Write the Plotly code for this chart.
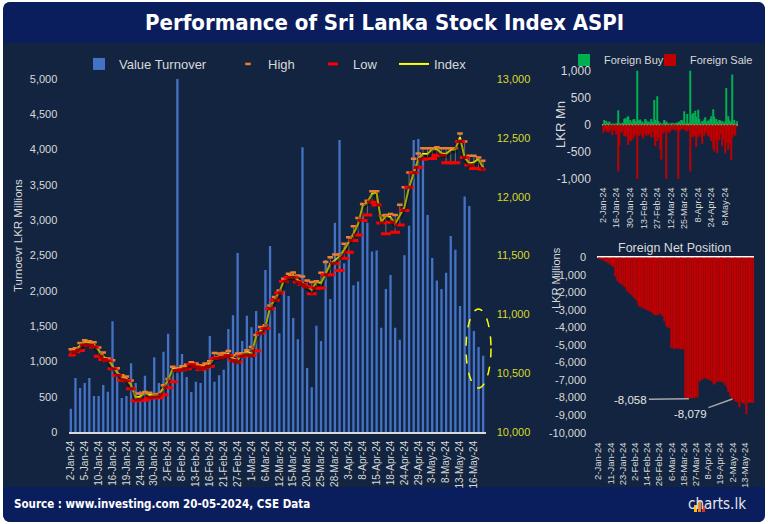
import plotly.graph_objects as go

W, H = 768, 524

# ---------------- data ----------------
dates = [
    "2-Jan-24", "3-Jan-24", "4-Jan-24", "5-Jan-24", "8-Jan-24", "9-Jan-24", "10-Jan-24", "11-Jan-24",
    "12-Jan-24", "16-Jan-24", "17-Jan-24", "18-Jan-24", "19-Jan-24", "22-Jan-24", "23-Jan-24",
    "24-Jan-24", "26-Jan-24", "29-Jan-24", "30-Jan-24", "31-Jan-24",
    "1-Feb-24", "2-Feb-24", "6-Feb-24", "7-Feb-24", "8-Feb-24", "9-Feb-24", "12-Feb-24", "13-Feb-24",
    "14-Feb-24", "15-Feb-24", "16-Feb-24", "19-Feb-24", "20-Feb-24", "21-Feb-24", "22-Feb-24",
    "26-Feb-24", "27-Feb-24", "28-Feb-24", "29-Feb-24",
    "1-Mar-24", "4-Mar-24", "5-Mar-24", "6-Mar-24", "7-Mar-24", "11-Mar-24", "12-Mar-24", "13-Mar-24",
    "14-Mar-24", "15-Mar-24", "18-Mar-24", "19-Mar-24", "20-Mar-24", "21-Mar-24", "22-Mar-24",
    "25-Mar-24", "26-Mar-24", "27-Mar-24", "28-Mar-24",
    "1-Apr-24", "2-Apr-24", "3-Apr-24", "4-Apr-24", "5-Apr-24", "8-Apr-24", "9-Apr-24", "10-Apr-24",
    "15-Apr-24", "16-Apr-24", "17-Apr-24", "18-Apr-24", "19-Apr-24", "22-Apr-24", "24-Apr-24",
    "25-Apr-24", "26-Apr-24", "29-Apr-24", "30-Apr-24",
    "2-May-24", "3-May-24", "6-May-24", "7-May-24", "8-May-24", "9-May-24", "10-May-24", "13-May-24",
    "14-May-24", "15-May-24", "16-May-24", "17-May-24", "20-May-24",
]

turnover = [
    330, 765, 625, 695, 765, 510, 510, 665, 570, 1570,
    900, 480, 510, 975, 695, 580, 795, 540, 1060, 695,
    1135, 1390, 880, 5000, 1105, 780, 565, 710, 695, 880,
    1360, 710, 805, 880, 1460, 1655, 2535, 1290, 1645, 1485,
    1715, 1500, 2295, 2635, 1770, 1400, 2000, 1925, 1615, 1315,
    4035, 905, 635, 1505, 1290, 2435, 1885, 2965, 4135, 2390,
    2550, 2080, 2130, 3070, 2965, 2555, 2570, 1475, 2025, 2225,
    1475, 1305, 2505, 2920, 4135, 4150, 3900, 3075, 2465, 2145,
    2025, 2255, 2775, 2580, 1785, 3335, 3200, 1430, 1205, 1080,
]

index_close = [
    10690, 10700, 10730, 10765, 10757, 10743, 10695, 10638, 10616, 10559,
    10503, 10469, 10452, 10398, 10294, 10299, 10333, 10314, 10314, 10322,
    10370, 10441, 10540, 10531, 10548, 10559, 10582, 10568, 10554, 10568,
    10582, 10633, 10644, 10653, 10661, 10624, 10610, 10667, 10681, 10667,
    10814, 10860, 10893, 11062, 11124, 11189, 11288, 11322, 11331, 11288,
    11266, 11240, 11209, 11274, 11266, 11345, 11429, 11458, 11492, 11548,
    11613, 11684, 11768, 11924, 11952, 12023, 12037, 11782, 11839, 11825,
    11768, 11839, 11910, 12079, 12206, 12319, 12362, 12362, 12404, 12404,
    12367, 12362, 12396, 12404, 12503, 12333, 12282, 12291, 12319, 12243,
]

index_high = [
    10703, 10712, 10757, 10780, 10771, 10763, 10718, 10675, 10624, 10610,
    10542, 10483, 10472, 10438, 10328, 10328, 10339, 10333, 10319, 10322,
    10398, 10450, 10554, 10542, 10559, 10571, 10593, 10582, 10568, 10582,
    10602, 10672, 10667, 10672, 10689, 10653, 10667, 10669, 10695, 10723,
    10825, 10893, 10907, 11076, 11147, 11203, 11302, 11345, 11356, 11331,
    11322, 11288, 11274, 11282, 11353, 11444, 11486, 11508, 11508, 11599,
    11655, 11749, 11819, 11938, 11966, 12045, 12045, 11839, 11845, 11853,
    11845, 11932, 12079, 12206, 12322, 12367, 12412, 12412, 12412, 12420,
    12412, 12412, 12412, 12412, 12537, 12469, 12347, 12347, 12333, 12305,
]

index_low = [
    10655, 10681, 10692, 10740, 10740, 10723, 10644, 10616, 10605, 10537,
    10483, 10441, 10435, 10367, 10266, 10271, 10271, 10291, 10291, 10291,
    10316, 10376, 10427, 10523, 10528, 10537, 10574, 10554, 10531, 10545,
    10559, 10624, 10630, 10638, 10650, 10610, 10596, 10644, 10647, 10653,
    10689, 10842, 10879, 11048, 11119, 11181, 11282, 11316, 11316, 11274,
    11254, 11232, 11175, 11223, 11223, 11336, 11336, 11435, 11373, 11477,
    11528, 11627, 11675, 11797, 11845, 11952, 11929, 11777, 11684, 11782,
    11698, 11760, 11882, 12079, 12203, 12248, 12319, 12325, 12325, 12353,
    12353, 12288, 12288, 12288, 12469, 12333, 12270, 12240, 12240, 12234,
]

foreign_buy = [
    20, 90, 70, 40, 60, 30, 20, 25, 15, 30,
    270, 35, 20, 40, 110, 120, 140, 160, 90, 50,
    100, 110, 70, 1050, 90, 100, 60, 40, 110, 80,
    60, 50, 110, 60, 460, 90, 530, 70, 40, 20,
    30, 90, 60, 40, 20, 30, 40, 25, 30, 40,
    50, 60, 90, 80, 250, 40, 200, 40, 1800, 190,
    220, 260, 150, 280, 110, 40, 70, 100, 140, 60,
    80, 110, 160, 290, 150, 110, 60, 90, 80, 70,
    40, 60, 680, 160, 80, 60, 930, 90, 30, 70,
]

foreign_sale = [
    -150, -120, -100, -130, -140, -90, -190, -100, -120, -180,
    -860, -380, -150, -120, -200, -210, -220, -370, -290, -300,
    -250, -220, -180, -1300, -200, -160, -210, -250, -160, -200,
    -190, -170, -230, -130, -240, -390, -300, -240, -460, -640,
    -160, -130, -1150, -120, -150, -120, -90, -80, -110, -90,
    -2900, -120, -90, -80, -70, -110, -120, -90, -860, -230,
    -220, -200, -410, -230, -180, -220, -350, -200, -140, -170,
    -210, -230, -300, -430, -490, -300, -520, -280, -180, -390,
    -260, -530, -330, -460, -340, -650, -240, -180, -200, -40,
]

foreign_net = [
    -40, -80, -130, -180, -230, -280, -350, -430, -500, -560,
    -1100, -1350, -1450, -1500, -1600, -1700, -1800, -1950, -2050, -2150,
    -2250, -2350, -2450, -2700, -2800, -2850, -2900, -2950, -3000, -3050,
    -3100, -3150, -3250, -3300, -3300, -3250, -3200, -3350, -3650, -3900,
    -4000, -4050, -5150, -5200, -5200, -5200, -5220, -5230, -5240, -5250,
    -8040, -8050, -8058, -8040, -8030, -8020, -8000, -7980, -7100, -7000,
    -6950, -6900, -6900, -6950, -7000, -7050, -7200, -7250, -7100, -7080,
    -7100, -7080, -7150, -7300, -7450, -7700, -7950, -8079, -8100, -8200,
    -8250, -8550, -8200, -8300, -8350, -8950, -8250, -8300, -8280, -8300,
]

fx_tick_vals = [1000, 500, 0, -500, -1000]
fx_tick_text = ["1,000", "500", "0", "-500", "-1,000"]
net_tick_vals = [0, -1000, -2000, -3000, -4000, -5000, -6000, -7000, -8000, -9000, -10000]
net_tick_text = ["0", "-1,000", "-2,000", "-3,000", "-4,000", "-5,000", "-6,000",
                 "-7,000", "-8,000", "-9,000", "-10,000"]

main_ticks = dates[::3]
fx_ticks = dates[::9]
net_ticks = dates[::7]

# ---------------- helpers ----------------
def px(x):
    return x / W


def py(y):
    return 1 - y / H


def rrect(x0, y0, x1, y1, rtl, rtr, rbr, rbl):
    p = lambda x, y: f"{px(x):.5f},{py(y):.5f}"
    s = f"M {p(x0 + rtl, y0)} L {p(x1 - rtr, y0)} Q {p(x1, y0)} {p(x1, y0 + rtr)} "
    s += f"L {p(x1, y1 - rbr)} Q {p(x1, y1)} {p(x1 - rbr, y1)} "
    s += f"L {p(x0 + rbl, y1)} Q {p(x0, y1)} {p(x0, y1 - rbl)} "
    s += f"L {p(x0, y0 + rtl)} Q {p(x0, y0)} {p(x0 + rtl, y0)} Z"
    return s


FONT = "Liberation Sans, Arial, sans-serif"
NARROW = "Liberation Sans Narrow, DejaVu Sans Condensed, Roboto Condensed, Arial Narrow, Liberation Sans, sans-serif"
LIGHT = "#d9d9d9"
YELLOW_TXT = "#d9d92a"
PANEL = "#12243f"
BANNER = "#0a1e5e"

fig = go.Figure()

# ---------------- main chart ----------------
fig.add_trace(go.Bar(x=dates, y=turnover, name="Value Turnover", marker=dict(color="#4472c4", line=dict(width=0)),
                     width=0.5, xaxis="x", yaxis="y", legend="legend"))

hx, hy = [], []
for d, lo, hi in zip(dates, index_low, index_high):
    hx += [d, d, None]
    hy += [lo, hi, None]
fig.add_trace(go.Scatter(x=hx, y=hy, mode="lines", line=dict(color="#707070", width=1),
                         showlegend=False, hoverinfo="skip", xaxis="x", yaxis="y2"))
# soft shadow under the index line (same values, axis shifted by ~2px)
fig.add_trace(go.Scatter(x=dates, y=index_close, mode="lines", line=dict(color="rgba(0,0,0,0.35)", width=4),
                         showlegend=False, hoverinfo="skip", xaxis="x", yaxis="y5"))
fig.add_trace(go.Scatter(x=dates, y=index_close, name="Index", mode="lines",
                         line=dict(color="#ffff00", width=2), xaxis="x", yaxis="y2", legend="legend4"))
fig.add_trace(go.Scatter(x=dates, y=index_high, name="High", mode="markers",
                         marker=dict(symbol="line-ew", size=4, line=dict(color="#ed7d31", width=2.5)),
                         xaxis="x", yaxis="y2", legend="legend2"))
fig.add_trace(go.Scatter(x=dates, y=index_low, name="Low", mode="markers",
                         marker=dict(symbol="line-ew", size=7, line=dict(color="#ff0000", width=3)),
                         xaxis="x", yaxis="y2", legend="legend3"))

# ---------------- foreign buy / sale ----------------
fig.add_trace(go.Bar(x=dates, y=foreign_buy, name="Foreign Buy", marker=dict(color="#00b050", line=dict(width=0)),
                     width=0.75, xaxis="x2", yaxis="y3", legend="legend5"))
fig.add_trace(go.Bar(x=dates, y=foreign_sale, name="Foreign Sale", marker=dict(color="#c00000", line=dict(width=0)),
                     width=0.75, xaxis="x2", yaxis="y3", legend="legend6"))

# ---------------- foreign net position ----------------
fig.add_trace(go.Bar(x=dates, y=foreign_net, name="Foreign Net Position",
                     marker=dict(color="#c00000", line=dict(width=0)),
                     width=0.8, xaxis="x3", yaxis="y4", showlegend=False))

tick_font = dict(family=FONT, size=11, color=LIGHT)
xt_font = dict(family=FONT, size=10, color=LIGHT)

leg = dict(orientation="h", bgcolor="rgba(0,0,0,0)", xanchor="left", yanchor="middle",
           font=dict(family=FONT, size=13, color=LIGHT))
leg_s = dict(orientation="h", bgcolor="rgba(0,0,0,0)", xanchor="left", yanchor="middle",
             font=dict(family=FONT, size=11, color=LIGHT))

shapes = [
    dict(type="path", path=rrect(3, 2, 765, 522, 8, 8, 8, 8), xref="paper", yref="paper",
         fillcolor=PANEL, line=dict(width=0), layer="below"),
    dict(type="path", path=rrect(3, 2, 765, 43, 8, 8, 0, 0), xref="paper", yref="paper",
         fillcolor=BANNER, line=dict(width=0), layer="below"),
    dict(type="path", path=rrect(3, 487, 765, 522, 0, 0, 8, 8), xref="paper", yref="paper",
         fillcolor=BANNER, line=dict(width=0), layer="below"),
    # dashed ellipse highlighting last sessions
    dict(type="circle", xref="paper", yref="paper", x0=px(466), x1=px(491), y0=py(388), y1=py(309),
         line=dict(color="#ffff00", width=1.5, dash="dash")),
    # logo icon
    dict(type="rect", xref="paper", yref="paper", x0=px(694), x1=px(697), y0=py(512), y1=py(505),
         fillcolor="#ffc000", line=dict(width=0)),
    dict(type="rect", xref="paper", yref="paper", x0=px(698), x1=px(701), y0=py(512), y1=py(500),
         fillcolor="#ed7d31", line=dict(width=0)),
    dict(type="rect", xref="paper", yref="paper", x0=px(702), x1=px(705), y0=py(512), y1=py(506),
         fillcolor="#e03030", line=dict(width=0)),
]


def ann(text, x, y, size, color=LIGHT, family=FONT, xanchor="center", angle=0):
    return dict(text=text, x=px(x), y=py(y), xref="paper", yref="paper", xanchor=xanchor,
                yanchor="middle", textangle=angle, showarrow=False,
                font=dict(family=family, size=size, color=color))


annotations = [
    ann("<b>Performance of Sri Lanka Stock Index ASPI</b>", 384, 23, 22, "white", NARROW),
    ann("<b>Source : www.investing.com 20-05-2024, CSE Data</b>", 12, 504, 11.5, "white", NARROW, "left"),
    ann("charts.lk", 748, 504, 15, "#e6e6e6", NARROW, "right"),
    ann("Turnoevr LKR Millions", 18, 236, 11.5, angle=-90),
    ann("LKR Mn", 560, 125, 13, angle=-90),
    ann("LKR Millions", 556, 278, 11, angle=-90),
    ann("Foreign Net Position", 674, 248, 12.5),
    dict(text="-8,058", x=dates[52], y=foreign_net[52], xref="x3", yref="y4", showarrow=True,
         arrowhead=0, arrowwidth=1.5, arrowcolor="#a6a6a6", ax=-58, ay=1, standoff=0,
         font=dict(family=FONT, size=11.5, color="#e6e6e6")),
    dict(text="-8,079", x=dates[77], y=foreign_net[77], xref="x3", yref="y4", showarrow=True,
         arrowhead=0, arrowwidth=1.5, arrowcolor="#a6a6a6", ax=-42, ay=15, standoff=0,
         font=dict(family=FONT, size=11.5, color="#e6e6e6")),
]

fig.update_layout(
    width=W, height=H, margin=dict(l=0, r=0, t=0, b=0, pad=0, autoexpand=False),
    paper_bgcolor="white", plot_bgcolor="rgba(0,0,0,0)",
    font=dict(family=FONT, color=LIGHT),
    barmode="relative", bargap=0.3,
    showlegend=True,
    shapes=shapes, annotations=annotations,
    legend=dict(x=px(79), y=py(64), **leg),
    legend2=dict(x=px(228), y=py(64), **leg),
    legend3=dict(x=px(313), y=py(64), **leg),
    legend4=dict(x=px(394), y=py(64), **leg),
    legend5=dict(x=px(564), y=py(60), **leg_s),
    legend6=dict(x=px(650), y=py(60), **leg_s),
    xaxis=dict(domain=[px(68.5), px(485.5)], anchor="y", type="category", categoryorder="array",
               categoryarray=dates, range=[-0.5, len(dates) - 0.5], tickmode="array",
               tickvals=main_ticks, ticktext=main_ticks, tickangle=-90, tickfont=xt_font,
               ticks="outside", ticklen=3, tickcolor="rgba(0,0,0,0)",
               showline=True, linecolor=LIGHT, linewidth=1.5, showgrid=False, zeroline=False),
    yaxis=dict(domain=[py(432), py(79)], anchor="x", range=[0, 5000], dtick=500, tickformat=",d",
               tickfont=tick_font, ticks="outside", ticklen=8, tickcolor="rgba(0,0,0,0)",
               showgrid=False, zeroline=False, showline=False),
    yaxis2=dict(overlaying="y", anchor="x", side="right", range=[10000, 13000], dtick=500,
                tickformat=",d", tickfont=dict(family=FONT, size=11, color=YELLOW_TXT),
                ticks="outside", ticklen=8, tickcolor="rgba(0,0,0,0)",
                showgrid=False, zeroline=False, showline=False),
    yaxis5=dict(overlaying="y", anchor="x", side="right", range=[10017, 13017], visible=False,
                showgrid=False, zeroline=False),
    xaxis2=dict(domain=[px(602.25), px(737.75)], anchor="y3", type="category",
                categoryorder="array", categoryarray=dates, range=[-0.5, len(dates) - 0.5],
                tickmode="array", tickvals=fx_ticks, ticktext=fx_ticks, tickangle=-90,
                tickfont=dict(family=FONT, size=9, color=LIGHT), ticks="outside", ticklen=4,
                tickcolor="rgba(0,0,0,0)", showline=False, showgrid=False, zeroline=False),
    yaxis3=dict(domain=[py(179), py(70.7)], anchor="x2", range=[-1000, 1000], tickmode="array",
                tickvals=fx_tick_vals, ticktext=fx_tick_text,
                tickfont=dict(family=FONT, size=12, color=LIGHT), ticks="outside", ticklen=8,
                tickcolor="rgba(0,0,0,0)", showgrid=False, zeroline=True, zerolinecolor="white",
                zerolinewidth=1.5, showline=False),
    xaxis3=dict(domain=[px(597.4), px(754.2)], anchor="y4", type="category",
                categoryorder="array", categoryarray=dates, range=[-0.5, len(dates) - 0.5],
                tickmode="array", tickvals=net_ticks, ticktext=net_ticks, tickangle=-90,
                tickfont=dict(family=FONT, size=9.5, color=LIGHT), ticks="outside", ticklen=5,
                tickcolor="rgba(0,0,0,0)", showline=False, showgrid=False, zeroline=False),
    yaxis4=dict(domain=[py(432.7), py(257.3)], anchor="x3", range=[-10000, 0], tickmode="array",
                tickvals=net_tick_vals, ticktext=net_tick_text,
                tickfont=dict(family=FONT, size=11, color=LIGHT), ticks="outside", ticklen=8,
                tickcolor="rgba(0,0,0,0)", showgrid=False, zeroline=True, zerolinecolor="white",
                zerolinewidth=1.5, showline=False),
)

fig.write_html("out.html", config={"displayModeBar": False},
               post_script="document.body.style.margin='0px';document.body.style.overflow='hidden';")
